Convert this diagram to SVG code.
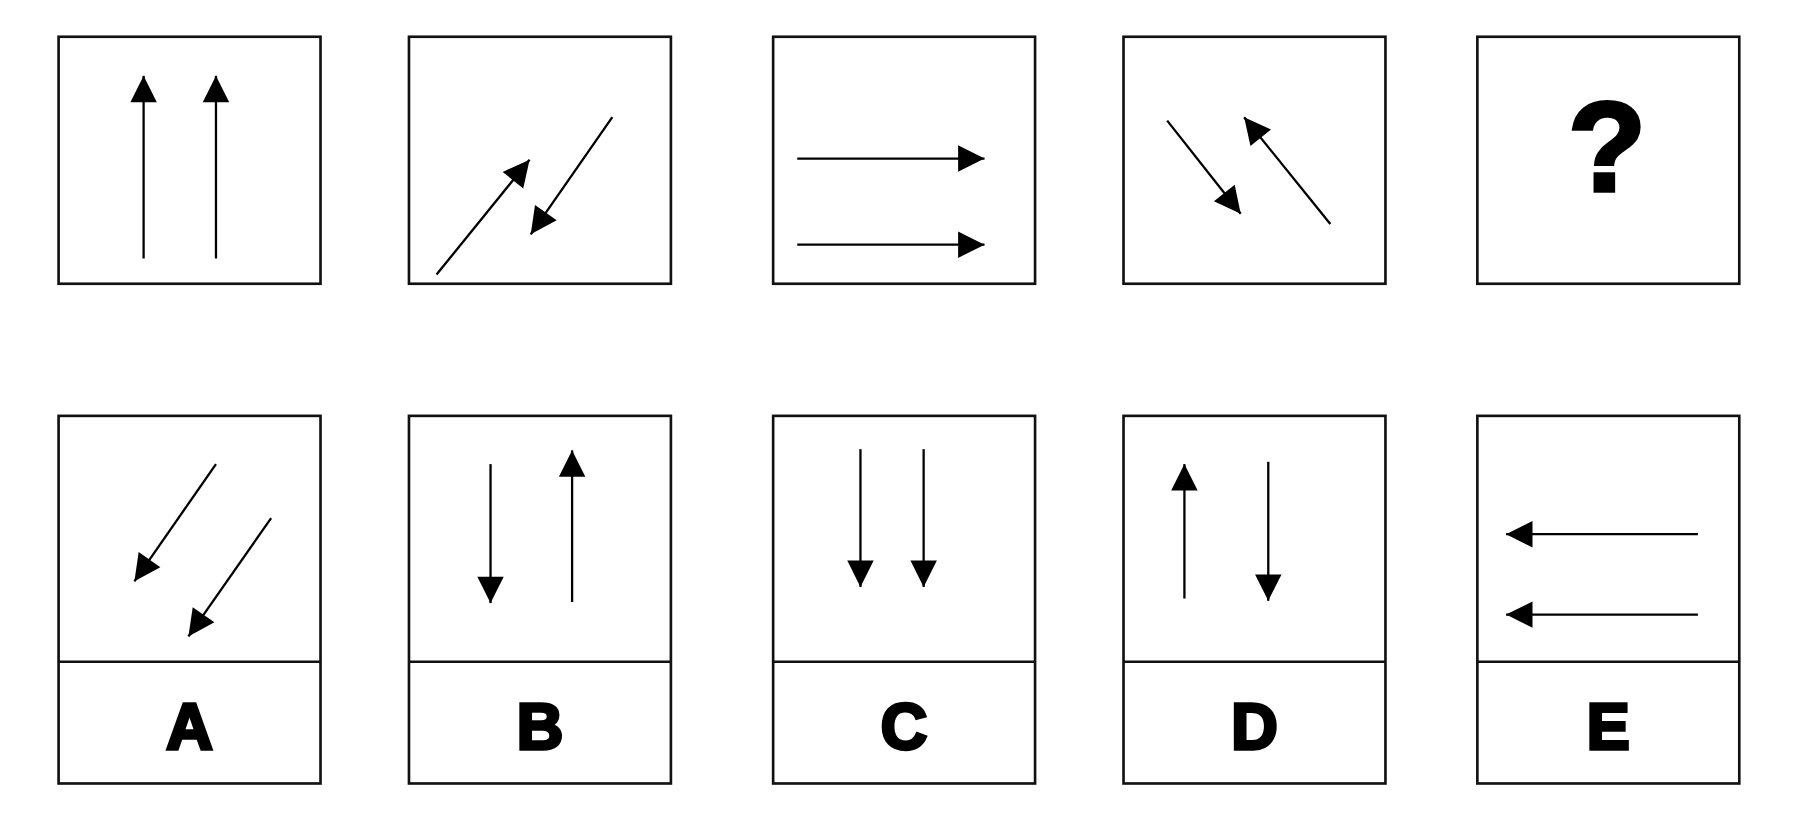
<svg xmlns="http://www.w3.org/2000/svg" width="1800" height="818" viewBox="0 0 1800 818">
<style>
.b{fill:none;stroke:#111;stroke-width:2.3}
.a{stroke:#000;stroke-width:2;fill:none;marker-end:url(#h)}
.t{font-family:"Liberation Sans",Arial,sans-serif;font-weight:bold;font-size:56px;text-anchor:middle;fill:#000;stroke:#000;stroke-width:3}
</style>
<defs><marker id="h" markerUnits="userSpaceOnUse" viewBox="-24 -12 25 24" refX="0" refY="0" markerWidth="25" markerHeight="24" orient="auto"><path d="M0,0 L-23,-11.5 L-23,11.5 Z" fill="#000"/></marker></defs>
<rect width="1800" height="818" fill="#fff"/>
<g transform="scale(1.1488)">
<g id="q1"><rect class="b" x="51" y="32" width="228" height="215"/></g>
<g id="q2"><rect class="b" x="356" y="32" width="228" height="215"/></g>
<g id="q3"><rect class="b" x="673" y="32" width="228" height="215"/></g>
<g id="q4"><rect class="b" x="978" y="32" width="228" height="215"/></g>
<g id="q5"><rect class="b" x="1286" y="32" width="228" height="215"/><text class="t" x="1399" y="166" style="font-size:112px">?</text></g>
<g id="A"><rect class="b" x="51" y="362" width="228" height="320"/><line class="b" x1="51" y1="576" x2="279" y2="576"/><text class="t" x="165" y="652">A</text></g>
<g id="B"><rect class="b" x="356" y="362" width="228" height="320"/><line class="b" x1="356" y1="576" x2="584" y2="576"/><text class="t" x="470" y="652">B</text></g>
<g id="C"><rect class="b" x="673" y="362" width="228" height="320"/><line class="b" x1="673" y1="576" x2="901" y2="576"/><text class="t" x="787" y="652">C</text></g>
<g id="D"><rect class="b" x="978" y="362" width="228" height="320"/><line class="b" x1="978" y1="576" x2="1206" y2="576"/><text class="t" x="1092" y="652">D</text></g>
<g id="E"><rect class="b" x="1286" y="362" width="228" height="320"/><line class="b" x1="1286" y1="576" x2="1514" y2="576"/><text class="t" x="1400" y="652">E</text></g>
<g id="connectors">
<line class="a" x1="125" y1="225" x2="125" y2="66"/>
<line class="a" x1="188" y1="225" x2="188" y2="66"/>
<line class="a" x1="380" y1="239" x2="461" y2="139"/>
<line class="a" x1="533" y1="102" x2="462" y2="204"/>
<line class="a" x1="694" y1="138" x2="857" y2="138"/>
<line class="a" x1="694" y1="213" x2="857" y2="213"/>
<line class="a" x1="1016" y1="105" x2="1080" y2="186"/>
<line class="a" x1="1158" y1="195" x2="1083" y2="102"/>
<line class="a" x1="188" y1="404" x2="117" y2="506"/>
<line class="a" x1="236" y1="451" x2="164" y2="554"/>
<line class="a" x1="427" y1="404" x2="427" y2="525"/>
<line class="a" x1="498" y1="524" x2="498" y2="392"/>
<line class="a" x1="749" y1="391" x2="749" y2="511"/>
<line class="a" x1="804" y1="391" x2="804" y2="511"/>
<line class="a" x1="1031" y1="521" x2="1031" y2="404"/>
<line class="a" x1="1104" y1="402" x2="1104" y2="523"/>
<line class="a" x1="1478" y1="465" x2="1311" y2="465"/>
<line class="a" x1="1478" y1="535" x2="1311" y2="535"/>
</g>
</g>
</svg>
